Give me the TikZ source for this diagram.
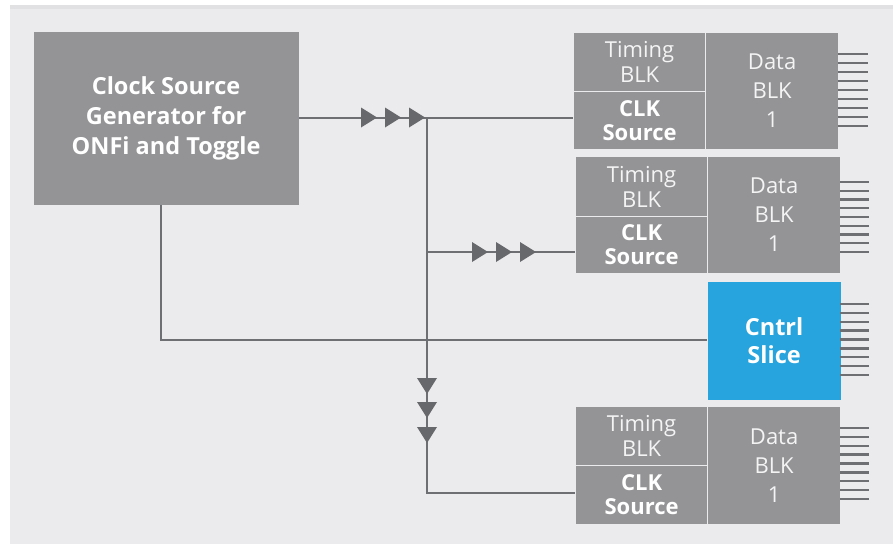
\documentclass[tikz,border=0pt]{standalone}
\usepackage{fontspec}
\setmainfont{Open Sans}
\definecolor{panel}{HTML}{EBEBED}
\definecolor{band}{HTML}{E1E1E3}
\definecolor{boxgray}{HTML}{949497}
\definecolor{wire}{HTML}{6E6F72}
\definecolor{tri}{HTML}{67686B}
\definecolor{cblue}{HTML}{27A4DD}
\definecolor{softwhite}{HTML}{F4F4F5}
\tikzset{
  cell/.style={fill=boxgray, draw=panel, line width=1.2pt, anchor=north west, inner sep=0pt, align=center},
  lighttext/.style={text=softwhite, font=\fontsize{22}{25}\selectfont},
  boldtext/.style={text=white, font=\bfseries\fontsize{22}{24}\selectfont},
  datatext/.style={text=softwhite, font=\fontsize{22}{29}\selectfont},
  wireline/.style={draw=wire, line width=2.6pt},
  pin/.style={draw=wire, line width=2.4pt},
  trifill/.style={fill=tri}
}
\newcommand{\rtri}[2]{\fill[trifill] (#1,#2-10) -- (#1+16,#2) -- (#1,#2+10) -- cycle;}
\newcommand{\dtri}[2]{\fill[trifill] (#1-10,#2) -- (#1+10,#2) -- (#1,#2+16) -- cycle;}
\newcommand{\pins}[4]{\foreach \k in {0,...,8} {\draw[pin] (#1,{#3+\k*(#4-#3)/8}) -- (#2,{#3+\k*(#4-#3)/8});}}
\begin{document}
\begin{tikzpicture}[x=1pt,y=-1pt]
\useasboundingbox (0,0) rectangle (893,544);
\fill[white] (0,0) rectangle (893,544);
\fill[band] (10,5) rectangle (893,9);
\fill[panel] (10,9) rectangle (893,544);

% generator
\node[cell, draw=none, minimum width=265pt, minimum height=173pt, text=white, font=\bfseries\fontsize{23.5}{30}\selectfont] (gen) at (33,31) {Clock Source\\Generator for\\ONFi and Toggle};

% block 1
\node[cell, lighttext, minimum width=132pt, minimum height=59pt] (tim1) at (573,32) {Timing\\BLK};
\node[cell, boldtext, minimum width=132pt, minimum height=58pt] (clk1) at (573,91) {CLK\\Source};
\node[cell, datatext, minimum width=133pt, minimum height=117pt] (dat1) at (705,32) {Data\\BLK\\1};

% block 2
\node[cell, lighttext, minimum width=132pt, minimum height=60pt] (tim2) at (575,156) {Timing\\BLK};
\node[cell, boldtext, minimum width=132pt, minimum height=57pt] (clk2) at (575,216) {CLK\\Source};
\node[cell, datatext, minimum width=133pt, minimum height=117pt] (dat2) at (707,156) {Data\\BLK\\1};

% control slice
\node[cell, draw=none, fill=cblue, text=white, font=\bfseries\fontsize{23.5}{28}\selectfont, minimum width=133pt, minimum height=118pt] (cntrl) at (707,281) {Cntrl\\Slice};

% block 3
\node[cell, lighttext, minimum width=132pt, minimum height=59pt] (tim3) at (575,406) {Timing\\BLK};
\node[cell, boldtext, minimum width=132pt, minimum height=59pt] (clk3) at (575,465) {CLK\\Source};
\node[cell, datatext, minimum width=133pt, minimum height=118pt] (dat3) at (707,406) {Data\\BLK\\1};

% pins
\pins{838}{868}{54}{126}
\pins{840}{869}{182}{252}
\pins{840}{869}{304}{375}
\pins{840}{869}{428}{499}

% wires
\coordinate (j1) at (427,117.5);
\coordinate (j2) at (427,252);
\coordinate (j4) at (427,493);
\coordinate (cb) at (161,340);
\draw[wireline] (gen.east) -- (gen.east -| clk1.west);
\draw[wireline] (j1) -- (j4) -- (j4 -| clk3.west);
\draw[wireline] (j2) -- (j2 -| clk2.west);
\draw[wireline] (cb |- gen.south) -- (cb) -- (cb -| cntrl.west);

% arrowheads
\rtri{361}{117.5}\rtri{385}{117.5}\rtri{409}{117.5}
\rtri{472}{252}\rtri{496}{252}\rtri{520}{252}
\dtri{427}{378}\dtri{427}{402}\dtri{427}{427}
\end{tikzpicture}
\end{document}
